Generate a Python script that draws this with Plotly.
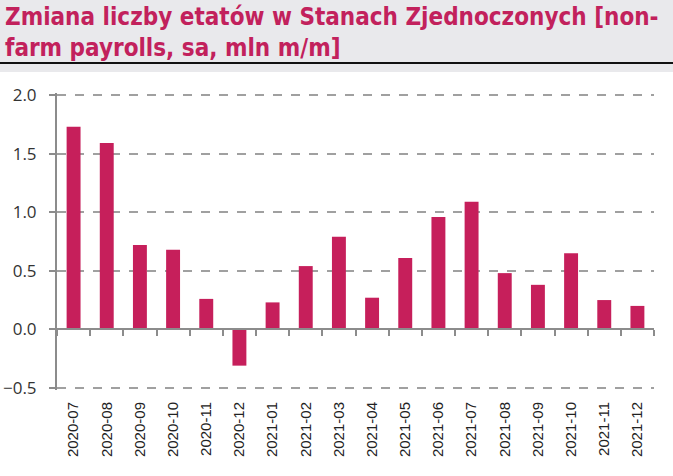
import plotly.graph_objects as go

months = ["2020-07", "2020-08", "2020-09", "2020-10", "2020-11", "2020-12",
          "2021-01", "2021-02", "2021-03", "2021-04", "2021-05", "2021-06",
          "2021-07", "2021-08", "2021-09", "2021-10", "2021-11", "2021-12"]
payrolls = [1.73, 1.59, 0.72, 0.68, 0.26, -0.31,
            0.23, 0.54, 0.79, 0.27, 0.61, 0.96,
            1.09, 0.48, 0.38, 0.65, 0.25, 0.20]
title_text = "Zmiana liczby etatów w Stanach Zjednoczonych [non-<br>farm payrolls, sa, mln m/m]"

BAR = "#C61F5B"
YMIN, YMAX = -0.5, 2.0
EPS = 0.018

fig = go.Figure()
fig.add_trace(go.Bar(x=months, y=payrolls, marker_color=BAR,
                     marker_line_width=0, xaxis="x", yaxis="y"))
# invisible trace for the zero axis with boundary ticks
fig.add_trace(go.Scatter(x=months, y=[0] * len(months), mode="lines",
                         line=dict(width=0), opacity=0, hoverinfo="skip",
                         xaxis="x2", yaxis="y", showlegend=False))

zero_pos = (0 - (YMIN - EPS)) / ((YMAX + EPS) - (YMIN - EPS))

fig.update_layout(
    width=673, height=476,
    margin=dict(l=57, r=19, t=93, b=86),
    paper_bgcolor="white", plot_bgcolor="white",
    showlegend=False, bargap=0.58,
    font=dict(family="Liberation Sans, Arial", color="#333333"),
    xaxis=dict(type="category", showline=False, ticks="", showgrid=False,
               tickangle=-90, tickfont=dict(size=15, color="#222222"),
               ticklabelstandoff=8, automargin=False,
               range=[-0.5, len(months) - 0.5]),
    xaxis2=dict(type="category", overlaying="x", anchor="free", position=zero_pos,
                side="bottom", showline=True, linecolor="#8c8c8c", linewidth=2,
                ticks="outside", tickson="boundaries", ticklen=6, tickwidth=1.5,
                tickcolor="#8c8c8c", showticklabels=False, showgrid=False,
                automargin=False,
                range=[-0.5, len(months) - 0.5], matches="x"),
    yaxis=dict(range=[YMIN - EPS, YMAX + EPS], tickvals=[-0.5, 0, 0.5, 1.0, 1.5, 2.0],
               tickformat=".1f", automargin=False,
               showgrid=True, gridcolor="#a0a0a0", griddash="dash", gridwidth=2,
               zeroline=False, showline=True, linecolor="#8c8c8c", linewidth=2,
               ticks="outside", ticklen=6, tickcolor="#8c8c8c", tickwidth=1.5,
               ticklabelstandoff=9,
               tickfont=dict(size=17, family="Open Sans, Liberation Sans", color="#333333")),
)

# title band
fig.add_shape(type="rect", xref="paper", yref="paper", x0=-1, x1=2,
              y0=1 + (93 - 72) / 297, y1=1 + 93 / 297, fillcolor="#e9e9ec",
              line_width=0, layer="below")
fig.add_shape(type="line", xref="paper", yref="paper", x0=-1, x1=2,
              y0=1 + (93 - 63) / 297, y1=1 + (93 - 63) / 297,
              line=dict(color="#111111", width=2))
fig.add_annotation(text=title_text, xref="paper", yref="paper",
                   x=-54 / 597, y=1 + 92 / 297, xanchor="left", yanchor="top",
                   align="left", showarrow=False,
                   font=dict(size=24, color="#C2215C", family="DejaVu Sans Condensed",
                             weight="bold"))

fig.write_html("out.html")
